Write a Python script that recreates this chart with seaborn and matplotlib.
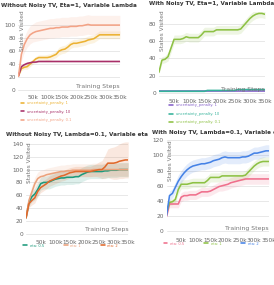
import numpy as np
import pandas as pd
import matplotlib
matplotlib.use('Agg')
import matplotlib.pyplot as plt
from matplotlib.ticker import FuncFormatter
import seaborn as sns

# evaluation grid: every 10k training steps, 0 .. 350k
STEPS = np.arange(0, 351, 10) * 1000

# ---- Without Noisy TV, Eta=1, variable lambda ------------------------------
TL_PEN_1 = [22, 33, 35, 36, 40, 44, 48, 50, 50, 50, 50, 51, 53, 55, 60, 62, 63, 66,
            70, 72, 72, 73, 74, 75, 77, 78, 79, 82, 85, 85, 85, 85, 85, 85, 85, 85]
TL_PEN_10 = [22, 36, 39, 41, 42, 43, 43, 44, 44, 44, 44, 44, 44, 44, 44, 44, 44, 44,
             44, 44, 44, 44, 44, 44, 44, 44, 44, 44, 44, 44, 44, 44, 44, 44, 44, 44]
TL_PEN_01 = [21, 55, 70, 79, 85, 88, 90, 91, 92, 93, 94, 95, 95, 96, 96, 97, 97, 97,
             98, 98, 98, 99, 99, 100, 101, 100, 100, 100, 100, 100, 100, 100, 100, 100, 100, 100]
TL_SPREAD_1 = [1, 3, 3, 4, 4, 4, 4, 4, 4, 4, 5, 5, 5, 5, 6, 6, 6, 6,
               6, 6, 6, 6, 6, 6, 6, 6, 6, 6, 6, 6, 6, 6, 6, 6, 6, 6]
TL_SPREAD_10 = [1, 2, 2, 2, 2, 1, 1, 1, 1, 1, 1, 1, 1, 1, 1, 1, 1, 1,
                1, 1, 1, 1, 1, 1, 1, 1, 1, 1, 1, 1, 1, 1, 1, 1, 1, 1]
TL_SPREAD_01 = [2, 10, 12, 13, 14, 14, 15, 15, 15, 15, 15, 15, 15, 15, 15, 15, 15, 15,
                15, 15, 15, 15, 15, 15, 15, 15, 15, 15, 15, 15, 15, 15, 15, 15, 15, 15]

# ---- With Noisy TV, Eta=1, variable lambda ---------------------------------
TR_PEN_1 = [2, 2, 2, 2, 2, 2, 2, 2, 2, 2, 2, 2, 2, 2, 2, 2, 2, 2,
            2, 2, 2, 2, 2, 2, 2, 2, 2, 2, 2, 2, 2, 2, 2, 2, 2, 2]
TR_PEN_10 = [2, 2, 2, 2, 2, 2, 2, 2, 2, 2, 2, 2, 2, 2, 2, 2, 3, 3,
             3, 3, 3, 3, 3, 3, 3, 3, 4, 4, 4, 4, 4, 4, 4, 4, 4, 4]
TR_PEN_01 = [24, 38, 39, 42, 52, 62, 62, 62, 63, 65, 64, 64, 64, 64, 67, 71, 71, 71,
             71, 73, 73, 73, 73, 73, 73, 73, 73, 74, 78, 82, 86, 89, 91, 92, 92, 91]
TR_SPREAD_1 = [0.5] * 36
TR_SPREAD_10 = [0.5] * 36
TR_SPREAD_01 = [2, 4, 4, 5, 5, 5, 5, 5, 5, 5, 5, 5, 5, 5, 5, 5, 5, 5,
                5, 5, 5, 5, 5, 5, 5, 5, 5, 5, 5, 5, 5, 5, 5, 5, 5, 5]

# ---- Without Noisy TV, Lambda=0.1, variable eta ----------------------------
BL_ETA_05 = [25, 49, 58, 62, 69, 78, 80, 80, 81, 83, 85, 86, 87, 87, 88, 88, 88, 89,
             89, 92, 94, 96, 97, 97, 97, 97, 97, 98, 98, 99, 99, 99, 100, 100, 100, 100]
BL_ETA_1 = [25, 52, 65, 78, 86, 89, 90, 92, 93, 94, 95, 96, 97, 97, 98, 98, 99, 99,
            99, 99, 99, 99, 99, 100, 100, 100, 100, 100, 100, 100, 100, 100, 100, 100, 100, 100]
BL_ETA_2 = [25, 47, 52, 56, 66, 72, 75, 78, 82, 84, 86, 88, 90, 91, 93, 95, 96, 97,
            97, 97, 97, 97, 97, 98, 99, 100, 100, 104, 110, 110, 110, 111, 113, 114, 115, 115]
BL_SPREAD_05 = [2, 6, 8, 9, 10, 10, 10, 10, 11, 11, 11, 11, 11, 11, 11, 11, 11, 11,
                11, 11, 11, 11, 11, 11, 11, 11, 11, 11, 11, 11, 11, 11, 11, 11, 11, 11]
BL_SPREAD_1 = [2, 8, 10, 10, 10, 10, 10, 10, 10, 10, 10, 10, 10, 10, 10, 10, 10, 10,
               10, 10, 10, 10, 10, 10, 10, 10, 10, 10, 10, 10, 10, 10, 10, 10, 10, 10]
BL_SPREAD_2 = [2, 6, 7, 8, 8, 8, 8, 8, 8, 8, 8, 8, 8, 8, 8, 8, 8, 8,
               8, 8, 8, 8, 8, 9, 10, 12, 14, 18, 22, 24, 25, 26, 27, 28, 28, 28]

# ---- With Noisy TV, Lambda=0.1, variable eta -------------------------------
BR_ETA_05 = [20, 36, 36, 36, 36, 45, 47, 47, 48, 48, 48, 50, 52, 52, 52, 53, 55, 57,
             59, 60, 61, 62, 64, 65, 66, 67, 68, 69, 69, 69, 69, 69, 69, 69, 69, 69]
BR_ETA_1 = [25, 38, 39, 42, 55, 62, 62, 62, 63, 64, 64, 64, 64, 64, 67, 71, 71, 71,
            71, 73, 73, 73, 73, 73, 73, 73, 73, 74, 78, 82, 86, 89, 91, 92, 92, 92]
BR_ETA_2 = [21, 47, 50, 58, 66, 72, 77, 81, 84, 86, 87, 88, 89, 89, 90, 91, 93, 94,
            95, 97, 98, 97, 97, 97, 97, 97, 98, 98, 99, 101, 103, 103, 104, 105, 106, 106]
BR_SPREAD_05 = [2, 5, 5, 5, 5, 6, 6, 6, 6, 6, 6, 6, 6, 6, 6, 6, 6, 6,
                6, 7, 7, 7, 7, 7, 7, 7, 7, 7, 7, 7, 7, 7, 7, 7, 7, 7]
BR_SPREAD_1 = [2, 4, 4, 5, 6, 6, 6, 6, 6, 6, 6, 6, 6, 6, 6, 6, 6, 6,
               6, 6, 6, 6, 6, 6, 6, 6, 6, 6, 6, 6, 6, 6, 6, 6, 6, 6]
BR_SPREAD_2 = [2, 6, 6, 7, 8, 8, 8, 8, 8, 8, 8, 8, 8, 8, 8, 8, 8, 8,
               8, 8, 8, 8, 8, 8, 8, 8, 8, 8, 8, 8, 8, 8, 8, 8, 8, 8]


PANELS = [
    dict(title='Without Noisy TV, Eta=1, Variable Lambda',
         rect=[0.0675, 0.675, 0.370, 0.278], ylim=(-4, 118), yticks=range(0, 101, 20),
         series=[('uncertainty_penalty: 1', TL_PEN_1, TL_SPREAD_1, '#ecb233'),
                 ('uncertainty_penalty: 10', TL_PEN_10, TL_SPREAD_10, '#a82f68'),
                 ('uncertainty_penalty: 0.1', TL_PEN_01, TL_SPREAD_01, '#f3a386')],
         legend_at=(0.070, 0.650), ncol=1),
    dict(title='With Noisy TV, Eta=1, Variable Lambda',
         rect=[0.580, 0.663, 0.387, 0.296], ylim=(-3.5, 94), yticks=range(0, 81, 20),
         series=[('uncertainty_penalty: 1', TR_PEN_1, TR_SPREAD_1, '#8560c8'),
                 ('uncertainty_penalty: 10', TR_PEN_10, TR_SPREAD_10, '#34b29a'),
                 ('uncertainty_penalty: 0.1', TR_PEN_01, TR_SPREAD_01, '#8dc144')],
         legend_at=(0.612, 0.642), ncol=1),
    dict(title='Without Noisy TV, Lambda=0.1, Variable eta',
         rect=[0.095, 0.168, 0.373, 0.334], ylim=(-5, 143), yticks=range(0, 141, 20),
         series=[('eta: 0.5', BL_ETA_05, BL_SPREAD_05, '#1c9a7c'),
                 ('eta: 1', BL_ETA_1, BL_SPREAD_1, '#eba27c'),
                 ('eta: 2', BL_ETA_2, BL_SPREAD_2, '#e0692c')],
         legend_at=(0.080, 0.150), ncol=3),
    dict(title='With Noisy TV, Lambda=0.1, Variable eta',
         rect=[0.608, 0.175, 0.373, 0.333], ylim=(-5, 120), yticks=range(0, 121, 20),
         series=[('eta: 0.5', BR_ETA_05, BR_SPREAD_05, '#ef6f8c'),
                 ('eta: 1', BR_ETA_1, BR_SPREAD_1, '#8dc144'),
                 ('eta: 2', BR_ETA_2, BR_SPREAD_2, '#4582e6')],
         legend_at=(0.592, 0.157), ncol=3),
]


def draw_panel(fig, p):
    ax = fig.add_axes(p['rect'])
    frames = []
    for label, values, spread, color in p['series']:
        frames.append(pd.DataFrame({'step': STEPS, 'states': values, 'run': label}))
        lo = np.array(values) - np.array(spread)
        hi = np.array(values) + np.array(spread)
        ax.fill_between(STEPS, lo, hi, color=color, alpha=0.15, lw=0)
    df = pd.concat(frames, ignore_index=True)
    labels = [s[0] for s in p['series']]
    palette = {s[0]: s[3] for s in p['series']}
    sns.lineplot(data=df, x='step', y='states', hue='run', hue_order=labels,
                 palette=palette, lw=1.15, ax=ax, legend=True)

    ax.set_xlim(0, 350000)
    ax.set_ylim(*p['ylim'])
    ax.set_xticks(range(50000, 350001, 50000))
    ax.xaxis.set_major_formatter(FuncFormatter(lambda v, _: f'{int(v / 1000)}k'))
    ax.set_yticks(list(p['yticks']))
    ax.tick_params(labelsize=4.2, colors='#666666', length=0, pad=2)
    ax.grid(axis='y', color='#e4e4e4', lw=0.6)
    ax.grid(axis='x', visible=False)
    for s in ax.spines.values():
        s.set_visible(False)

    ax.set_xlabel('')
    ax.set_ylabel('')
    ax.text(0.012, 0.78, 'States Visited', rotation=90, transform=ax.transAxes,
            ha='left', va='center', fontsize=4.2, color='#777777')
    ax.text(1.0, 0.075, 'Training Steps', transform=ax.transAxes,
            ha='right', va='center', fontsize=4.4, color='#777777')
    ax.set_title(p['title'], fontsize=4.1, fontweight='bold', color='#333333', pad=4.5)

    handles, _ = ax.get_legend_handles_labels()
    leg = ax.legend(handles, labels, loc='upper left', bbox_to_anchor=p['legend_at'],
                    bbox_transform=fig.transFigure, ncol=p['ncol'], frameon=False,
                    fontsize=2.6, handlelength=1.0, handletextpad=0.8,
                    labelspacing=1.2, columnspacing=5.5, borderaxespad=0)
    for text, s in zip(leg.get_texts(), p['series']):
        text.set_color(s[3])
    return ax


def main():
    sns.set_theme(style='whitegrid')
    plt.rcParams['font.family'] = ['DejaVu Sans']
    fig = plt.figure(figsize=(2.74, 2.85), dpi=100)
    for p in PANELS:
        draw_panel(fig, p)
    fig.savefig('out.png', dpi=100)
    plt.close(fig)


if __name__ == '__main__':
    main()
